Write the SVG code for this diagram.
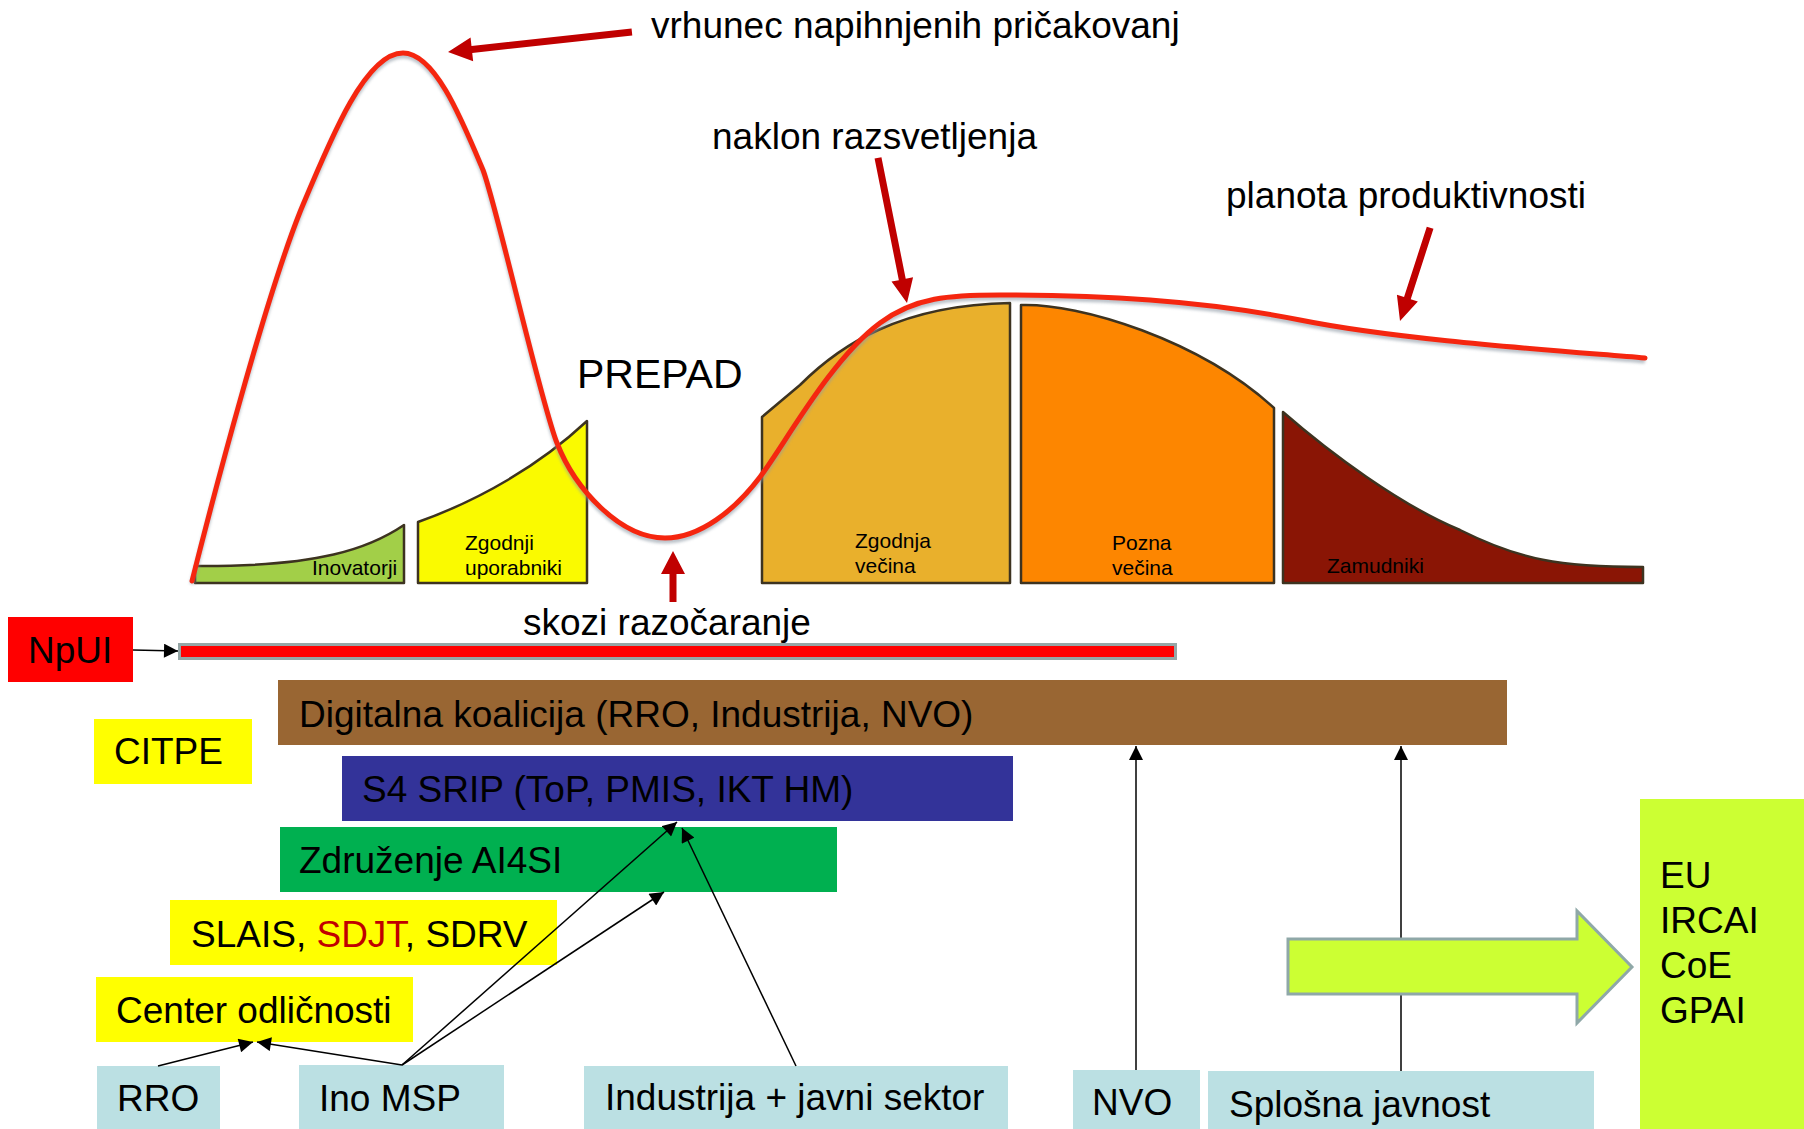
<svg xmlns="http://www.w3.org/2000/svg" width="1804" height="1129" viewBox="0 0 1804 1129">
<style>
  text { font-family: "Liberation Sans", Arial, sans-serif; fill: #000; }
  .lbl { font-size: 37px; }
  .small { font-size: 21px; }
  .adopt { stroke: #3d3320; stroke-width: 2.5; stroke-linejoin: round; }
  .conn { stroke: #000; stroke-width: 1.5; fill: none; marker-end: url(#ah); }
  .redarrow { fill: #c00000; }
  .person { fill: #bbe0e3; }
</style>
<defs>
  <marker id="ah" viewBox="0 0 10 10" refX="10" refY="5" markerWidth="15" markerHeight="14" markerUnits="userSpaceOnUse" orient="auto">
    <path d="M0,0 L10,5 L0,10 z" fill="#000"/>
  </marker>
  <filter id="blur" x="-5%" y="-5%" width="110%" height="110%">
    <feGaussianBlur stdDeviation="1.5"/>
  </filter>
</defs>
<rect width="1804" height="1129" fill="#fff"/>

<!-- adopter segments -->
<g id="inovatorji">
  <path class="adopt" fill="#a2cf48" d="M195,583 V566 C320,567 370,548 404,525 V583 Z"/>
  <text class="small" x="312" y="575">Inovatorji</text>
</g>
<g id="zgodnji-uporabniki">
  <path class="adopt" fill="#fafa00" d="M418,583 V522 C480,500 540,465 587,421 V583 Z"/>
  <text class="small" x="465" y="550">Zgodnji</text>
  <text class="small" x="465" y="575">uporabniki</text>
</g>
<g id="zgodnja-vecina">
  <path class="adopt" fill="#e9b02c" d="M762,583 V417 L800,385 C840,345 900,305 1010,303 V583 Z"/>
  <text class="small" x="855" y="548">Zgodnja</text>
  <text class="small" x="855" y="573">večina</text>
</g>
<g id="pozna-vecina">
  <path class="adopt" fill="#fd8600" d="M1021,583 V305 C1080,303 1200,340 1274,408 V583 Z"/>
  <text class="small" x="1112" y="550">Pozna</text>
  <text class="small" x="1112" y="575">večina</text>
</g>
<g id="zamudniki">
  <path class="adopt" fill="#8a1505" d="M1283,583 V412 C1330,453 1400,505 1460,530 C1520,560 1560,567 1643,567 V583 Z"/>
  <text class="small" x="1327" y="573">Zamudniki</text>
</g>

<!-- hype curve -->
<g id="hype-curve">
  <path d="M192,581 C215,490 265,300 300,212 C330,140 365,53 403,53 C435,53 462,120 483,170 C497,207 540,400 557,443 C575,489 620,538 665,538 C700,538 735,510 760,477 C785,444 830,360 880,323 C915,297 950,295 1000,295 C1100,295 1200,300 1300,320 C1400,340 1550,350 1645,358" fill="none" stroke="#8e9aa6" stroke-width="5" opacity="0.6" transform="translate(0,3)" filter="url(#blur)"/>
  <path d="M192,581 C215,490 265,300 300,212 C330,140 365,53 403,53 C435,53 462,120 483,170 C497,207 540,400 557,443 C575,489 620,538 665,538 C700,538 735,510 760,477 C785,444 830,360 880,323 C915,297 950,295 1000,295 C1100,295 1200,300 1300,320 C1400,340 1550,350 1645,358" fill="none" stroke="#f5260f" stroke-width="5" stroke-linecap="round"/>
</g>

<g id="prepad">
  <text x="577" y="388" style="font-size:41px">PREPAD</text>
</g>

<!-- callouts -->
<g id="vrhunec">
  <polygon class="redarrow" transform="translate(448,52) rotate(173.8)" points="0,0 -24,-12 -24,-3.5 -185,-3.5 -185,3.5 -24,3.5 -24,12"/>
  <text class="lbl" x="651" y="38">vrhunec napihnjenih pričakovanj</text>
</g>
<g id="naklon">
  <polygon class="redarrow" transform="translate(907,303) rotate(78.7)" points="0,0 -24,-11 -24,-3.5 -148,-3.5 -148,3.5 -24,3.5 -24,11"/>
  <text class="lbl" x="712" y="149">naklon razsvetljenja</text>
</g>
<g id="planota">
  <polygon class="redarrow" transform="translate(1400,321) rotate(107.9)" points="0,0 -24,-11 -24,-3.5 -98,-3.5 -98,3.5 -24,3.5 -24,11"/>
  <text class="lbl" x="1226" y="208">planota produktivnosti</text>
</g>
<g id="skozi">
  <polygon class="redarrow" transform="translate(673,551) rotate(-90)" points="0,0 -23,-12 -23,-3.5 -51,-3.5 -51,3.5 -23,3.5 -23,12"/>
  <text class="lbl" x="523" y="635">skozi razočaranje</text>
</g>

<!-- nodes -->
<g id="npui">
  <rect x="8" y="617" width="125" height="65" fill="#ff0000"/>
  <text class="lbl" x="28" y="663">NpUI</text>
</g>
<g id="npui-bar">
  <rect x="179.5" y="644.5" width="996" height="14" fill="#ff0000" stroke="#95a6a6" stroke-width="3"/>
</g>
<g id="citpe">
  <rect x="94" y="719" width="158" height="65" fill="#ffff00"/>
  <text class="lbl" x="114" y="764">CITPE</text>
</g>
<g id="digitalna-koalicija">
  <rect x="278" y="680" width="1229" height="65" fill="#996633"/>
  <text class="lbl" x="299" y="727">Digitalna koalicija (RRO, Industrija, NVO)</text>
</g>
<g id="s4-srip">
  <rect x="342" y="756" width="671" height="65" fill="#333399"/>
  <text class="lbl" x="362" y="802">S4 SRIP (ToP, PMIS, IKT HM)</text>
</g>
<g id="ai4si">
  <rect x="280" y="827" width="557" height="65" fill="#00b050"/>
  <text class="lbl" x="299" y="873">Združenje AI4SI</text>
</g>
<g id="slais">
  <rect x="170" y="900" width="387" height="65" fill="#ffff00"/>
  <text class="lbl" x="191" y="947">SLAIS, <tspan fill="#c00000">SDJT</tspan>, SDRV</text>
</g>
<g id="center">
  <rect x="96" y="977" width="317" height="65" fill="#ffff00"/>
  <text class="lbl" x="116" y="1023">Center odličnosti</text>
</g>
<g id="rro">
  <rect class="person" x="97" y="1066" width="123" height="63"/>
  <text class="lbl" x="117" y="1111">RRO</text>
</g>
<g id="ino-msp">
  <rect class="person" x="299" y="1065" width="205" height="64"/>
  <text class="lbl" x="319" y="1111">Ino MSP</text>
</g>
<g id="industrija">
  <rect class="person" x="584" y="1066" width="424" height="63"/>
  <text class="lbl" x="605" y="1110">Industrija + javni sektor</text>
</g>
<g id="nvo">
  <rect class="person" x="1073" y="1070" width="127" height="59"/>
  <text class="lbl" x="1092" y="1115">NVO</text>
</g>
<g id="splosna">
  <rect class="person" x="1208" y="1071" width="386" height="58"/>
  <text class="lbl" x="1229" y="1117">Splošna javnost</text>
</g>

<!-- connectors -->
<g id="connectors">
  <line class="conn" x1="133" y1="650" x2="178" y2="651"/>
  <line class="conn" x1="158" y1="1066" x2="253" y2="1042"/>
  <line class="conn" x1="402" y1="1065" x2="257" y2="1042"/>
  <line class="conn" x1="402" y1="1065" x2="677" y2="822"/>
  <line class="conn" x1="402" y1="1065" x2="664" y2="892"/>
  <line class="conn" x1="796" y1="1066" x2="682" y2="828"/>
  <line class="conn" x1="1136" y1="1070" x2="1136" y2="746"/>
  <line class="conn" x1="1401" y1="1071" x2="1401" y2="746"/>
</g>

<g id="big-arrow">
  <polygon points="1288,939 1577,939 1577,911 1632,967 1577,1023 1577,994 1288,994" fill="#ccff33" stroke="#8fa8a8" stroke-width="3" stroke-linejoin="miter"/>
</g>
<g id="international">
  <rect x="1640" y="799" width="164" height="330" fill="#ccff33"/>
  <text class="lbl" x="1660" y="888">EU</text>
  <text class="lbl" x="1660" y="933">IRCAI</text>
  <text class="lbl" x="1660" y="978">CoE</text>
  <text class="lbl" x="1660" y="1023">GPAI</text>
</g>
</svg>
